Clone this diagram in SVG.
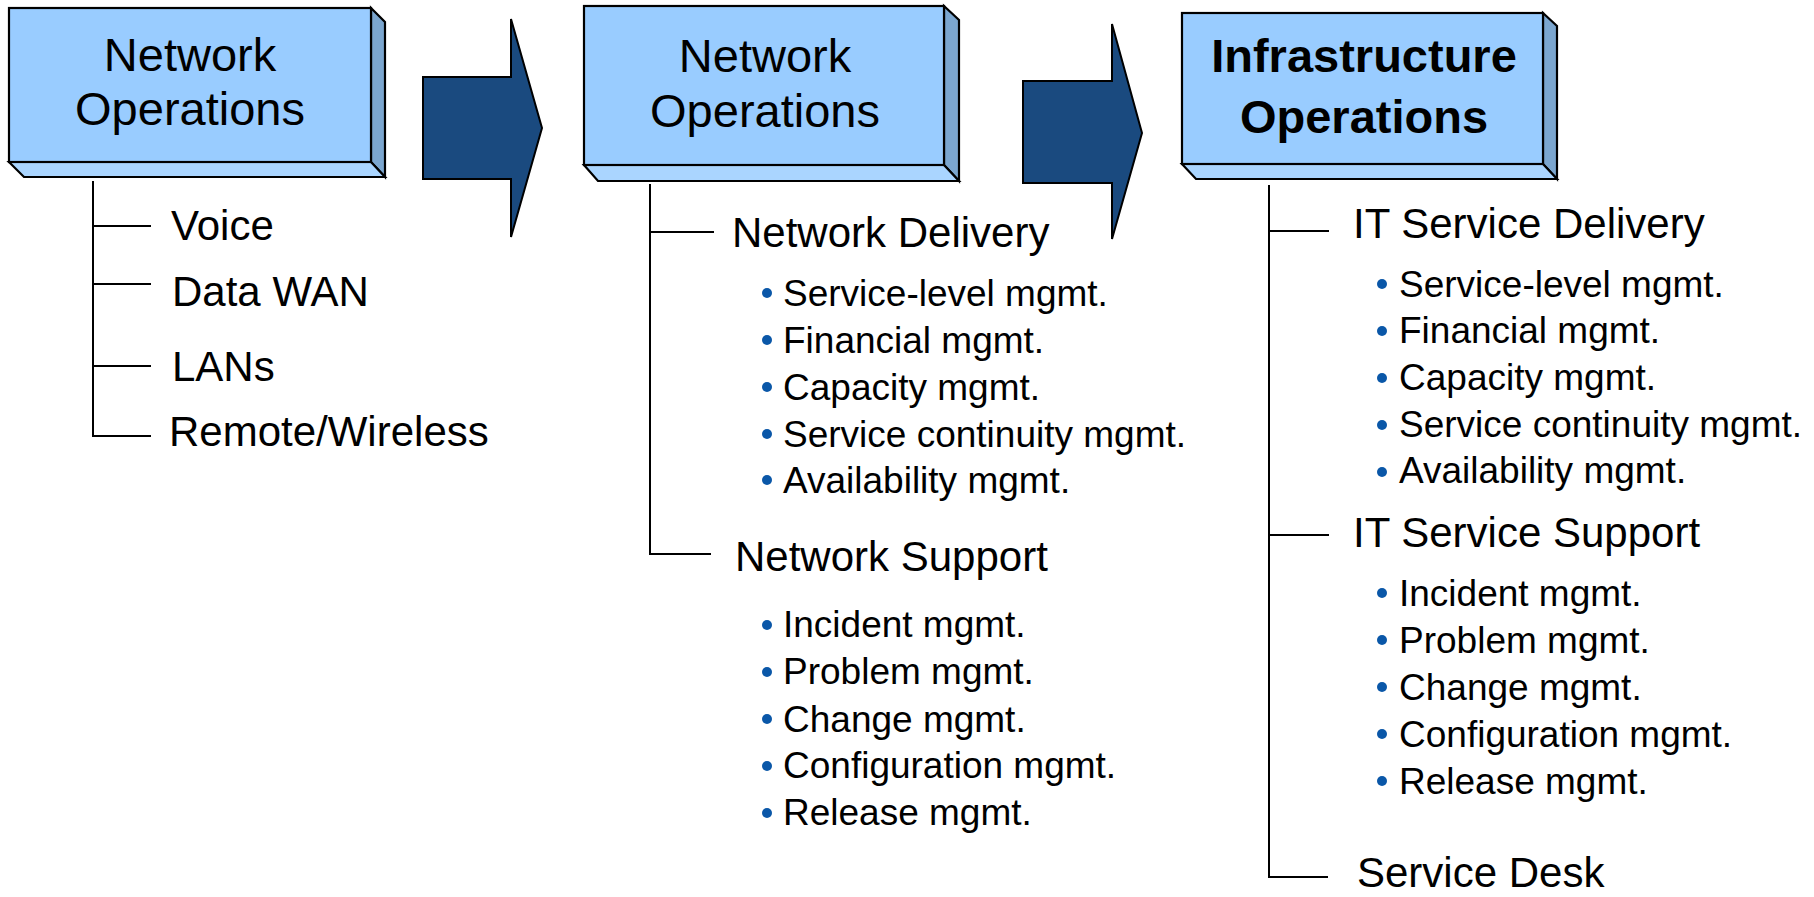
<svg xmlns="http://www.w3.org/2000/svg" width="1814" height="897" viewBox="0 0 1814 897">
<style>
.front{fill:#99CCFF;stroke:#000;stroke-width:2.2;stroke-linejoin:miter}
.side{fill:#7BA6CF;stroke:#000;stroke-width:2.2;stroke-linejoin:miter}
.bottom{fill:#AAD5FF;stroke:#000;stroke-width:2.2;stroke-linejoin:miter}
.arrow{fill:#1A4A7F;stroke:#000;stroke-width:2}
.box{font-family:"Liberation Sans",Arial,sans-serif;font-size:47px;fill:#000;text-anchor:middle}
.bold{font-weight:bold}
.h{font-family:"Liberation Sans",Arial,sans-serif;font-size:42px;fill:#000}
.b{font-family:"Liberation Sans",Arial,sans-serif;font-size:37px;fill:#000}
.dot{fill:#0A57A8}
.ln{stroke:#000;stroke-width:2;fill:none}
</style>
<g id="connectors">
<polygon class="arrow" points="423,77 511,77 511,19 542,128 511,237 511,179 423,179"/>
<polygon class="arrow" points="1023,81 1112,81 1112,24 1142,133 1112,239 1112,183 1023,183"/>
<path class="ln" d="M93,181 V436 H151 M93,226 H151 M93,284 H151 M93,366 H151"/>
<path class="ln" d="M650,184 V554 H711 M650,232 H714"/>
<path class="ln" d="M1269,185 V877 H1328 M1269,231 H1329 M1269,535 H1329"/>
</g>
<g id="box1">
<polygon class="side" points="371,8 385,22 385,177 371,162"/>
<polygon class="bottom" points="9,162 24,177 385,177 371,162"/>
<rect class="front" x="9" y="8" width="362" height="154"/>
<text class="box" x="190" y="71">Network</text>
<text class="box" x="190" y="125">Operations</text>
</g>
<g id="box2">
<polygon class="side" points="944,6 959,20 959,181 944,165"/>
<polygon class="bottom" points="584,165 598,181 959,181 944,165"/>
<rect class="front" x="584" y="6" width="360" height="159"/>
<text class="box" x="765" y="72">Network</text>
<text class="box" x="765" y="127">Operations</text>
</g>
<g id="box3">
<polygon class="side" points="1543,13 1557,26 1557,179 1543,164"/>
<polygon class="bottom" points="1182,164 1196,179 1557,179 1543,164"/>
<rect class="front" x="1182" y="13" width="361" height="151"/>
<text class="box bold" x="1364" y="72">Infrastructure</text>
<text class="box bold" x="1364" y="133">Operations</text>
</g>
<g id="list1">
<text class="h" x="171" y="240">Voice</text>
<text class="h" x="172" y="306">Data WAN</text>
<text class="h" x="172" y="381">LANs</text>
<text class="h" x="169" y="446">Remote/Wireless</text>
</g>
<g id="list2">
<text class="h" x="732" y="247">Network Delivery</text>
<circle class="dot" cx="767" cy="293" r="5"/><text class="b" x="783" y="306">Service-level mgmt.</text>
<circle class="dot" cx="767" cy="340" r="5"/><text class="b" x="783" y="353">Financial mgmt.</text>
<circle class="dot" cx="767" cy="387" r="5"/><text class="b" x="783" y="400">Capacity mgmt.</text>
<circle class="dot" cx="767" cy="434" r="5"/><text class="b" x="783" y="447">Service continuity mgmt.</text>
<circle class="dot" cx="767" cy="480" r="5"/><text class="b" x="783" y="493">Availability mgmt.</text>
<text class="h" x="735" y="571">Network Support</text>
<circle class="dot" cx="767" cy="625" r="5"/><text class="b" x="783" y="637">Incident mgmt.</text>
<circle class="dot" cx="767" cy="672" r="5"/><text class="b" x="783" y="684">Problem mgmt.</text>
<circle class="dot" cx="767" cy="719" r="5"/><text class="b" x="783" y="732">Change mgmt.</text>
<circle class="dot" cx="767" cy="766" r="5"/><text class="b" x="783" y="778">Configuration mgmt.</text>
<circle class="dot" cx="767" cy="813" r="5"/><text class="b" x="783" y="825">Release mgmt.</text>
</g>
<g id="list3">
<text class="h" x="1353" y="238">IT Service Delivery</text>
<circle class="dot" cx="1382" cy="284" r="5"/><text class="b" x="1399" y="297">Service-level mgmt.</text>
<circle class="dot" cx="1382" cy="331" r="5"/><text class="b" x="1399" y="343">Financial mgmt.</text>
<circle class="dot" cx="1382" cy="378" r="5"/><text class="b" x="1399" y="390">Capacity mgmt.</text>
<circle class="dot" cx="1382" cy="425" r="5"/><text class="b" x="1399" y="437">Service continuity mgmt.</text>
<circle class="dot" cx="1382" cy="472" r="5"/><text class="b" x="1399" y="483">Availability mgmt.</text>
<text class="h" x="1353" y="547">IT Service Support</text>
<circle class="dot" cx="1382" cy="593" r="5"/><text class="b" x="1399" y="606">Incident mgmt.</text>
<circle class="dot" cx="1382" cy="640" r="5"/><text class="b" x="1399" y="653">Problem mgmt.</text>
<circle class="dot" cx="1382" cy="687" r="5"/><text class="b" x="1399" y="700">Change mgmt.</text>
<circle class="dot" cx="1382" cy="734" r="5"/><text class="b" x="1399" y="747">Configuration mgmt.</text>
<circle class="dot" cx="1382" cy="781" r="5"/><text class="b" x="1399" y="794">Release mgmt.</text>
<text class="h" x="1357" y="887">Service Desk</text>
</g>
</svg>
